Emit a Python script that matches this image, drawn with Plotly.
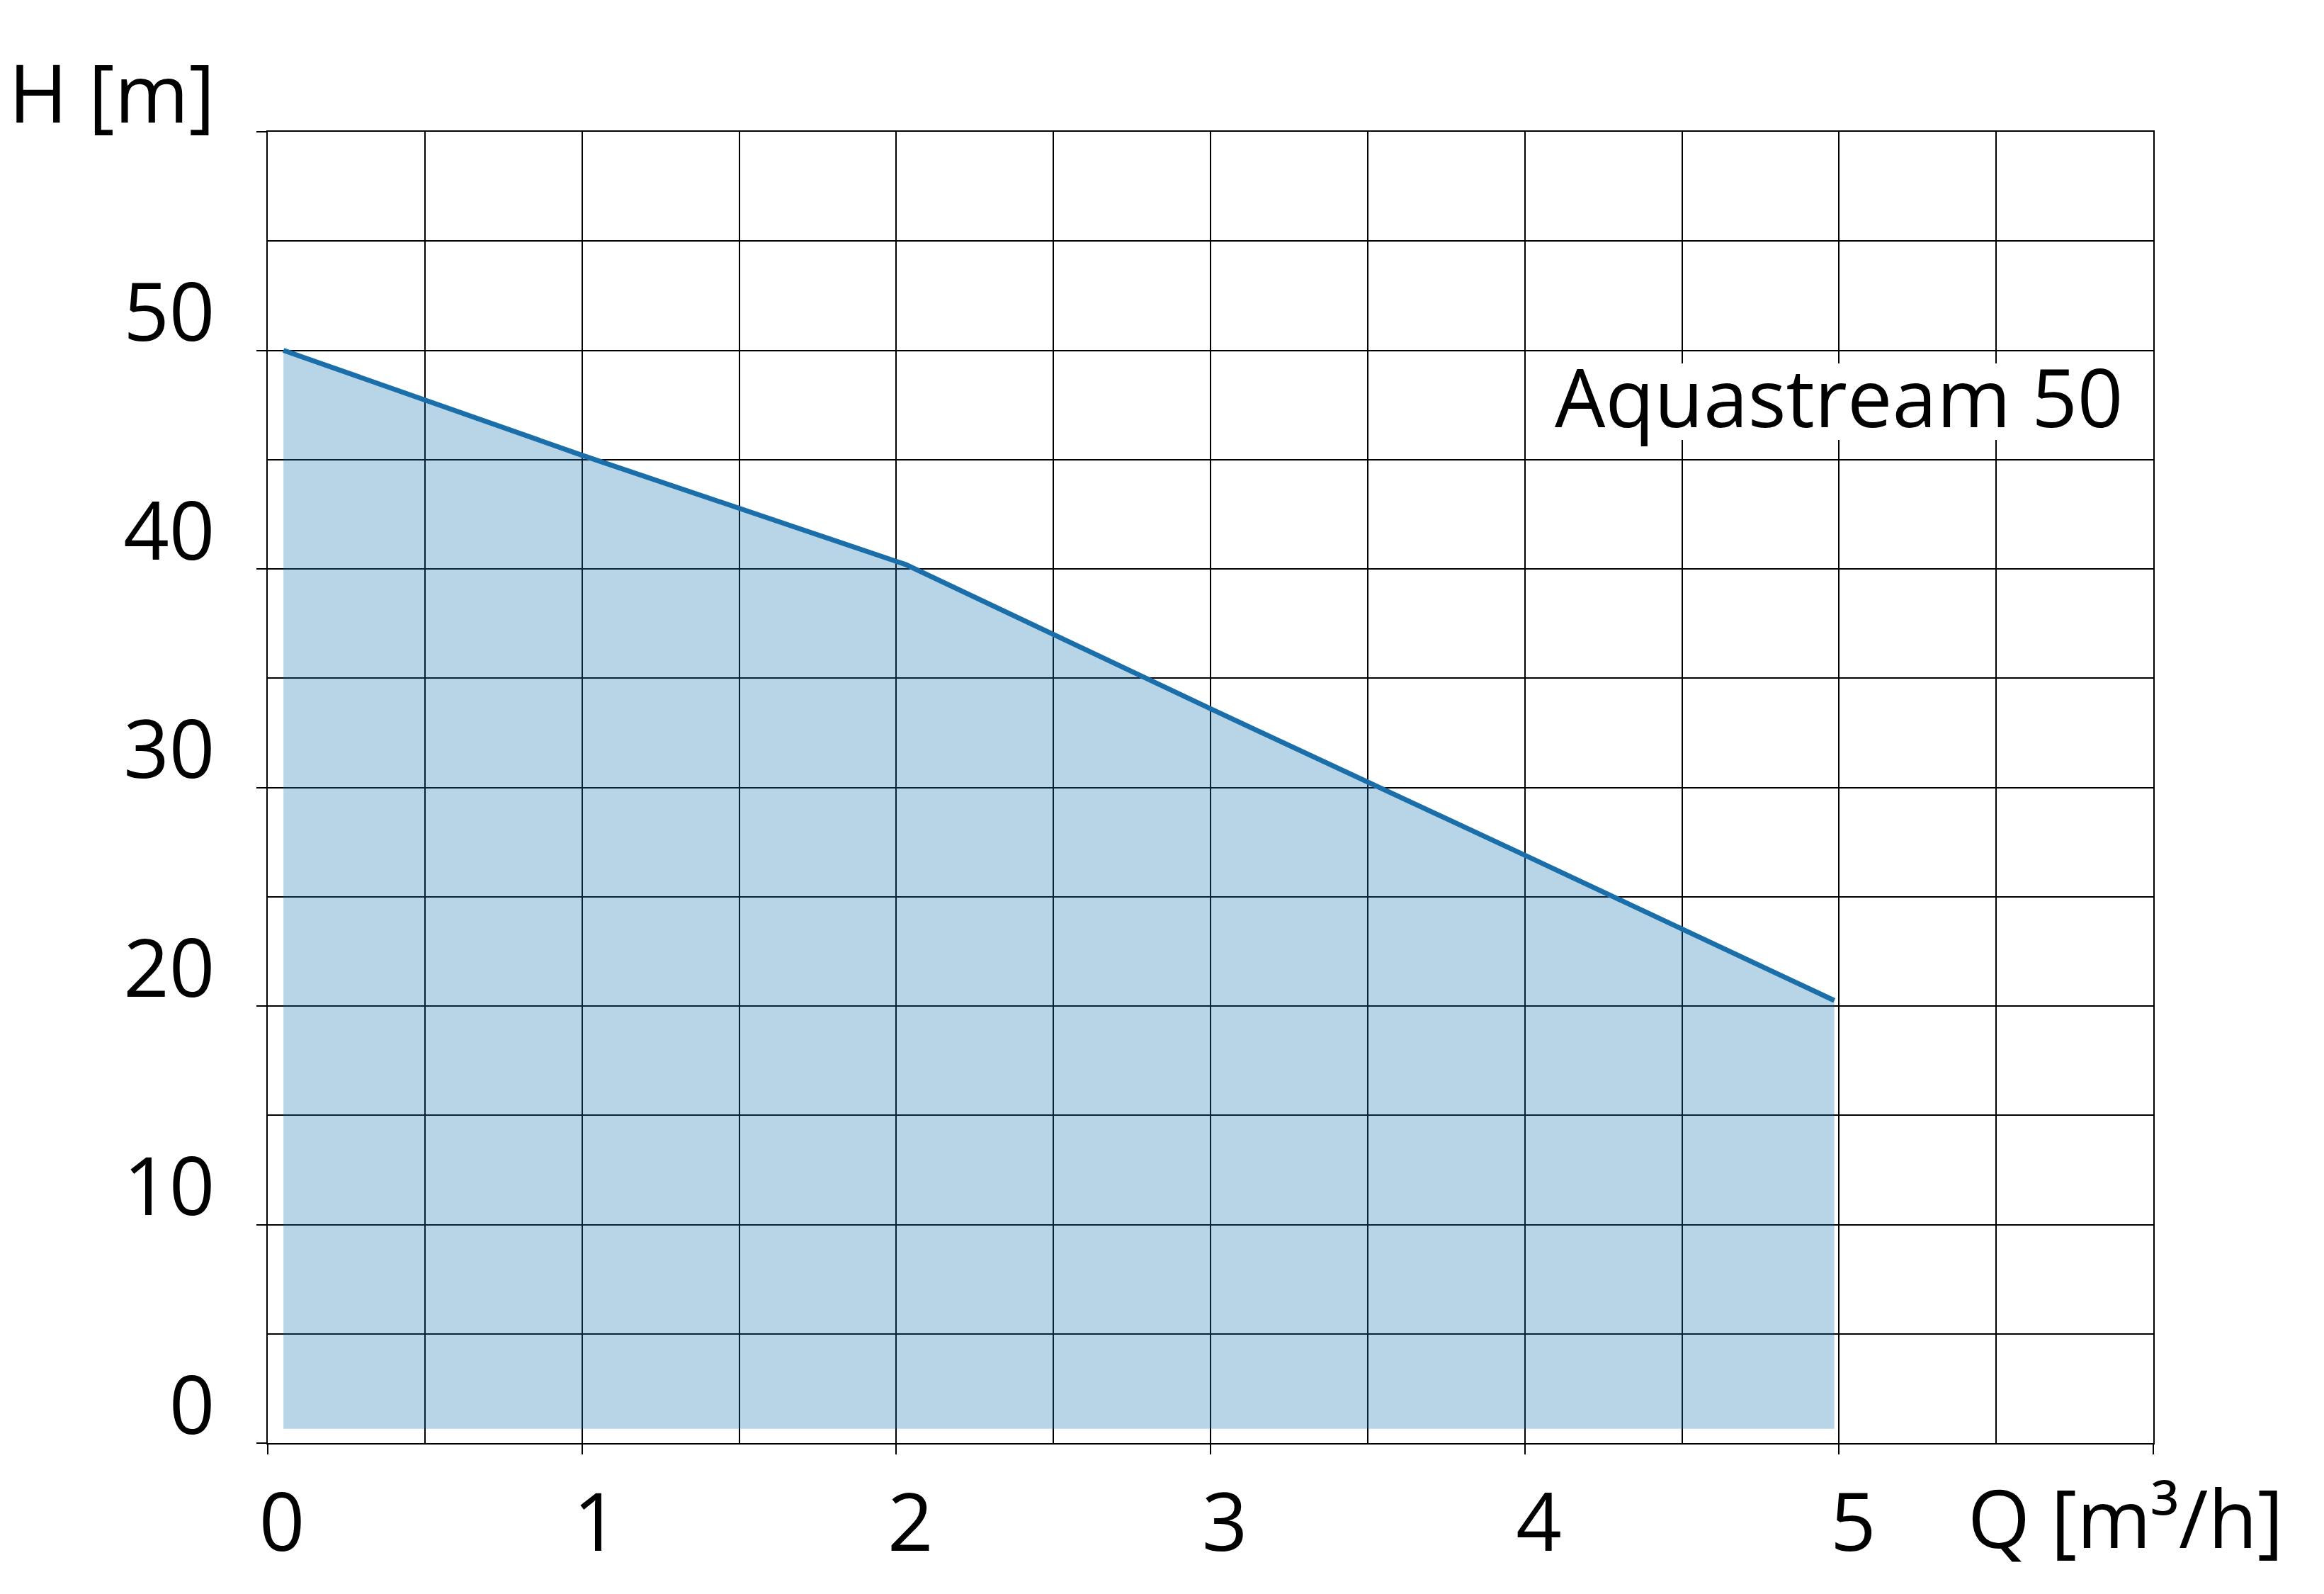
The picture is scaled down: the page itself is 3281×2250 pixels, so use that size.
import plotly.graph_objects as go

# Data
Q = [0.05, 1.0, 2.03, 3.0, 4.0, 4.985]
H = [50.0, 45.2, 40.2, 33.6, 26.9, 20.25]
fill_bottom = 0.66

x_ticks = [0, 1, 2, 3, 4, 5, 6]
x_ticktext = ["0", "1", "2", "3", "4", "5", ""]
y_ticks = [0, 10, 20, 30, 40, 50, 60]
y_ticktext = ["0", "10", "20", "30", "40", "50", "H [m]"]

series_name = "Aquastream 50"
x_title = "Q [m³/h]"

FONT = "Open Sans"
FS = 113
LINE_BLUE = "#1a6fab"

fig = go.Figure()

# Filled area (semi-transparent so the grid shows through)
fig.add_trace(go.Scatter(
    x=[Q[0]] + Q + [Q[-1]],
    y=[fill_bottom] + H + [fill_bottom],
    mode="lines", fill="toself",
    fillcolor="rgba(18,115,175,0.30)",
    line=dict(width=0),
    hoverinfo="skip", showlegend=False,
))

# Curve
fig.add_trace(go.Scatter(
    x=Q, y=H, mode="lines",
    line=dict(color=LINE_BLUE, width=7),
    showlegend=False,
))

# white label backing (interrupts the grid behind the series label)
fig.add_shape(
    type="rect", xref="x", yref="y",
    x0=4.08, x1=5.95, y0=45.9, y1=49.4,
    fillcolor="white", line=dict(width=0), layer="above",
)

fig.add_annotation(
    x=5.0, y=47.9, xref="x", yref="y",
    xanchor="center", yanchor="middle",
    text=series_name, showarrow=False,
    font=dict(family=FONT, size=FS, color="black"),
)

fig.add_annotation(
    x=5.405, y=0, xref="x", yref="paper",
    xanchor="left", yanchor="middle", yshift=-104,
    text=x_title, showarrow=False,
    font=dict(family=FONT, size=FS, color="black"),
)

fig.update_xaxes(
    range=[0, 6], tickmode="array", tickvals=x_ticks, ticktext=x_ticktext,
    ticks="outside", ticklen=14, tickwidth=2, tickcolor="black",
    showgrid=True, gridcolor="black", gridwidth=2,
    minor=dict(dtick=0.5, tick0=0, showgrid=True, gridcolor="black", gridwidth=2, ticks=""),
    showline=True, linecolor="black", linewidth=2, mirror=True,
    zeroline=False, automargin=False,
    tickfont=dict(family=FONT, size=FS, color="black"),
    ticklabelshift=20, ticklabelstandoff=0,
)
fig.update_yaxes(
    range=[0, 60], tickmode="array", tickvals=y_ticks, ticktext=y_ticktext,
    ticks="outside", ticklen=14, tickwidth=2, tickcolor="black",
    showgrid=True, gridcolor="black", gridwidth=2,
    minor=dict(dtick=5, tick0=0, showgrid=True, gridcolor="black", gridwidth=2, ticks=""),
    showline=True, linecolor="black", linewidth=2, mirror=True,
    zeroline=False, automargin=False,
    tickfont=dict(family=FONT, size=FS, color="black"),
    ticklabelshift=-53, ticklabelstandoff=36,
)

fig.update_layout(
    width=3281, height=2250,
    margin=dict(l=370, r=249, t=178, b=221, pad=0),
    paper_bgcolor="white", plot_bgcolor="white",
    showlegend=False,
    font=dict(family=FONT, color="black"),
)

fig.write_html("out.html")
